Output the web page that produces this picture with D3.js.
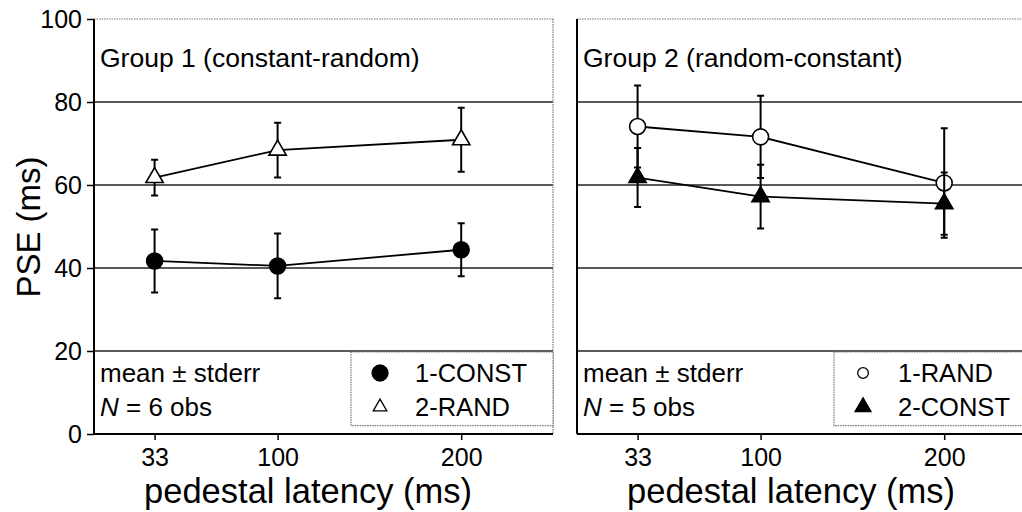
<!DOCTYPE html>
<meta charset="utf-8">
<script src="https://d3js.org/d3.v7.min.js"></script>
<style>
  body { margin: 0; background: #fff; }
  text { font-family: "Liberation Sans", Arial, sans-serif; fill: #000; }
</style>
<div id="chart"></div>
<script>
  // data
  var latencies = [33, 100, 200];
  var yTicks = [0, 20, 40, 60, 80, 100];
  var gridValues = [20, 40, 60, 80];

  var g1ConstMean = [41.7, 40.5, 44.4];
  var g1ConstErr = [7.6, 7.8, 6.4];
  var g1RandMean = [61.8, 68.4, 70.9];
  var g1RandErr = [4.3, 6.6, 7.7];

  var g2RandMean = [74.1, 71.6, 60.5];
  var g2RandErr = [9.9, 9.9, 13.2];
  var g2ConstMean = [61.8, 57.2, 55.5];
  var g2ConstErr = [7.1, 7.7, 7.5];

  var width = 1022, height = 512;
  var yTop = 19, yBottom = 434;
  var panelW = 459;

  var svg = d3.select("#chart").append("svg")
    .attr("width", width)
    .attr("height", height);

  var y = d3.scaleLinear().domain([0, 100]).range([yBottom, yTop]);

  var circleSym = d3.symbol().type(d3.symbolCircle);
  var triSym = d3.symbol().type(d3.symbolTriangle);

  function series(mean, err) {
    return latencies.map(function (d, i) { return { x: d, m: mean[i], e: err[i] }; });
  }

  function drawPanel(x0, opts) {
    var x = d3.scaleLinear().domain([0, 250]).range([x0, x0 + panelW]);
    var g = svg.append("g");

    // grid lines
    g.selectAll(".grid").data(gridValues).enter().append("line")
      .attr("x1", x0).attr("x2", x0 + panelW)
      .attr("y1", function (d) { return y(d); })
      .attr("y2", function (d) { return y(d); })
      .attr("stroke", "#222").attr("stroke-width", 1.6);

    // dotted frame top/right
    g.append("line").attr("x1", x0).attr("x2", x0 + panelW)
      .attr("y1", y(100)).attr("y2", y(100))
      .attr("stroke", "#777").attr("stroke-width", 1.2).attr("stroke-dasharray", "1.5,1");
    g.append("line").attr("x1", x0 + panelW).attr("x2", x0 + panelW)
      .attr("y1", y(100)).attr("y2", y(0))
      .attr("stroke", "#777").attr("stroke-width", 1.2).attr("stroke-dasharray", "1.5,1");

    // legend box
    g.append("rect")
      .attr("x", x(140)).attr("y", y(20) + 1)
      .attr("width", x0 + panelW - x(140)).attr("height", y(2) - y(20) - 1)
      .attr("fill", "#fff").attr("stroke", "#777").attr("stroke-width", 1.2)
      .attr("stroke-dasharray", "1.5,1");

    // axes
    var xAxis = d3.axisBottom(x).tickValues(latencies).tickSize(6).tickPadding(8);
    var ax = g.append("g").attr("transform", "translate(0," + yBottom + ")").call(xAxis);
    ax.select(".domain").attr("stroke", "#000").attr("stroke-width", 2)
      .attr("d", "M" + x0 + ",0H" + (x0 + panelW));
    ax.selectAll(".tick line").attr("stroke-width", 1.5);
    ax.selectAll(".tick text").attr("font-size", 25).attr("font-family", null);

    var yAxis = d3.axisLeft(y).tickValues(yTicks).tickSize(opts.yLabels ? 7 : 0)
      .tickPadding(5).tickFormat(opts.yLabels ? d3.format("d") : "");
    var ay = g.append("g").attr("transform", "translate(" + x0 + ",0)").call(yAxis);
    ay.select(".domain").attr("stroke", "#000").attr("stroke-width", 2)
      .attr("d", "M0," + yTop + "V" + yBottom);
    ay.selectAll(".tick line").attr("stroke-width", 1.5);
    ay.selectAll(".tick text").attr("font-size", 25).attr("font-family", null);

    // axis title
    g.append("text").attr("x", x0 + 214).attr("y", 503)
      .attr("text-anchor", "middle").attr("font-size", 34.5)
      .text("pedestal latency (ms)");

    // panel texts
    g.append("text").attr("x", x0 + 6).attr("y", 67).attr("font-size", 26.5).text(opts.title);
    g.append("text").attr("x", x0 + 6).attr("y", 382).attr("font-size", 26).text("mean \u00b1 stderr");
    var nt = g.append("text").attr("x", x0 + 6).attr("y", 416).attr("font-size", 26);
    nt.append("tspan").attr("font-style", "italic").text("N");
    nt.append("tspan").text(" = " + opts.n + " obs");

    // series
    opts.series.forEach(function (s) {
      var pts = series(s.mean, s.err);
      var sg = g.append("g");
      sg.selectAll(".eb").data(pts).enter().append("path")
        .attr("d", function (d) {
          var cx = x(d.x), t = y(d.m + d.e), b = y(d.m - d.e);
          return "M" + cx + "," + t + "V" + b +
            "M" + (cx - 3.5) + "," + t + "H" + (cx + 3.5) +
            "M" + (cx - 3.5) + "," + b + "H" + (cx + 3.5);
        })
        .attr("stroke", "#000").attr("stroke-width", 2).attr("fill", "none");
      s.g = sg; s.pts = pts;
    });
    opts.series.forEach(function (s) {
      s.g.append("path").datum(s.pts)
        .attr("d", d3.line().x(function (d) { return x(d.x); }).y(function (d) { return y(d.m); }))
        .attr("stroke", "#000").attr("stroke-width", 1.8).attr("fill", "none");
    });
    opts.series.forEach(function (s) {
      s.g.selectAll(".mk").data(s.pts).enter().append("path")
        .attr("transform", function (d) { return "translate(" + x(d.x) + "," + y(d.m) + ")"; })
        .attr("d", (s.shape === "circle" ? circleSym.size(200) : triSym.size(130))())
        .attr("fill", s.filled ? "#000" : "#fff")
        .attr("stroke", "#000").attr("stroke-width", 1.6);
    });

    // legend entries
    opts.series.forEach(function (s, i) {
      var ly = 382 + i * 34;
      var sym = s.shape === "circle" ? circleSym.size(s.filled ? 200 : 90) : triSym.size(s.filled ? 110 : 80);
      g.append("path")
        .attr("transform", "translate(" + (x(140) + 29) + "," + (ly - 9) + ")")
        .attr("d", sym())
        .attr("fill", s.filled ? "#000" : "#fff")
        .attr("stroke", "#000").attr("stroke-width", 1.3);
      g.append("text").attr("x", x(140) + 64).attr("y", ly)
        .attr("font-size", 25.5).text(s.name);
    });
  }

  drawPanel(94, {
    yLabels: true,
    title: "Group 1 (constant-random)",
    n: 6,
    series: [
      { name: "1-CONST", shape: "circle", filled: true, mean: g1ConstMean, err: g1ConstErr },
      { name: "2-RAND", shape: "triangle", filled: false, mean: g1RandMean, err: g1RandErr }
    ]
  });

  drawPanel(577, {
    yLabels: false,
    title: "Group 2 (random-constant)",
    n: 5,
    series: [
      { name: "1-RAND", shape: "circle", filled: false, mean: g2RandMean, err: g2RandErr },
      { name: "2-CONST", shape: "triangle", filled: true, mean: g2ConstMean, err: g2ConstErr }
    ]
  });

  // y axis title
  svg.append("text")
    .attr("transform", "translate(40,227) rotate(-90)")
    .attr("text-anchor", "middle").attr("font-size", 33)
    .text("PSE (ms)");
</script>
